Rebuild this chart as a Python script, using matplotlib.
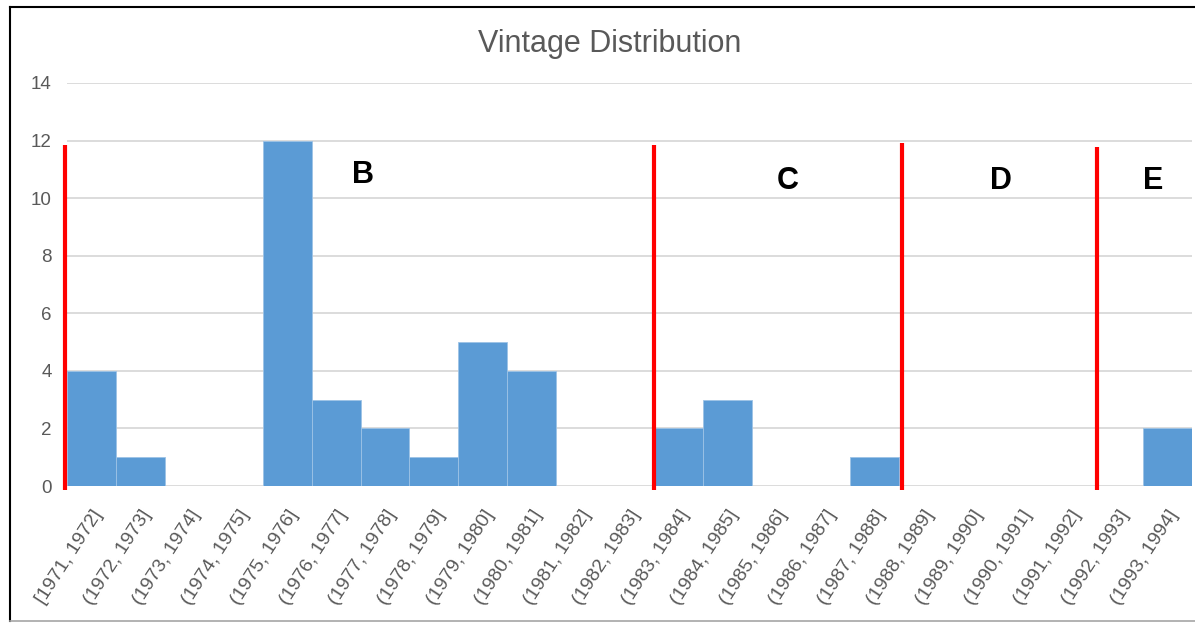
import matplotlib.pyplot as plt
from matplotlib.lines import Line2D

# Datos del histograma
bins = ['[1971, 1972]'] + ['(%d, %d]' % (y, y + 1) for y in range(1972, 1994)]
counts = [4, 1, 0, 0, 12, 3, 2, 1, 5, 4, 0, 0, 2, 3, 0, 0, 1, 0, 0, 0, 0, 0, 2]

# Separadores rojos (en unidades de bin) y letras de grupo
sep_x = [-0.04, 12.0, 17.07, 21.06]
sep_top = [11.84, 11.84, 11.9, 11.77]
groups = ['B', 'C', 'D', 'E']
group_x = [6.05, 14.74, 19.1, 22.2]
group_y = [10.8, 10.6, 10.6, 10.6]

plt.rcParams['font.family'] = ['Liberation Sans', 'DejaVu Sans']
gray = '#595959'

fig = plt.figure(figsize=(11.95, 6.23), dpi=100)
ax = fig.add_axes([0.0561, 0.2199, 0.9414, 0.6469])

x = list(range(len(counts)))
ax.bar(x, counts, width=1.0, align='edge', color='#5b9bd5',
       edgecolor='#9dc3e6', linewidth=0.6, zorder=2)

ax.set_xlim(0, len(counts))
ax.set_ylim(0, 14)
ax.set_yticks(range(0, 15, 2))
ax.yaxis.grid(True, color='#d9d9d9', linewidth=1.3, zorder=0)
ax.set_axisbelow(True)
for s in ax.spines.values():
    s.set_visible(False)
ax.tick_params(axis='both', length=0, colors=gray)
ax.tick_params(axis='y', pad=11, labelsize=13.5)
ax.tick_params(axis='x', pad=15)

ax.set_xticks([i + 0.5 for i in x])
ax.set_xticklabels(bins, rotation=57, ha='right', va='top',
                   rotation_mode='anchor', fontsize=14, color=gray)

for xs, yt in zip(sep_x, sep_top):
    ax.plot([xs, xs], [-0.14, yt], color='#ff0000', linewidth=3,
            clip_on=False, zorder=3, solid_capstyle='butt')

for g, gx, gy in zip(groups, group_x, group_y):
    ax.text(gx, gy, g, fontsize=22, fontweight='bold', color='black',
            ha='center', va='center', zorder=4)

fig.text(0.51, 0.93, 'Vintage Distribution', fontsize=22, color=gray,
         ha='center', va='center')

# Marco
fig.add_artist(Line2D([10 / 1195, 10 / 1195], [1 - 7 / 623, 1 - 621 / 623],
                      color='black', linewidth=1.5, transform=fig.transFigure))
fig.add_artist(Line2D([10 / 1195, 1.0], [1 - 7 / 623, 1 - 7 / 623],
                      color='black', linewidth=1.5, transform=fig.transFigure))
fig.add_artist(Line2D([10 / 1195, 1.0], [1 - 621 / 623, 1 - 621 / 623],
                      color='#a6a6a6', linewidth=1.2, transform=fig.transFigure))

fig.savefig('out.png', dpi=100)
